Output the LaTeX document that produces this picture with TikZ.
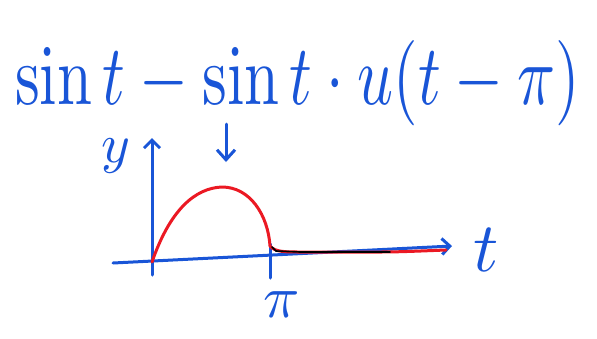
\documentclass[tikz,border=0pt]{standalone}
\usepackage{graphicx}
\usepackage{amsmath}
\usetikzlibrary{arrows.meta}
\definecolor{pen}{RGB}{25,85,215}
\definecolor{redpen}{RGB}{235,25,35}
\tikzset{
  penline/.style={draw=pen, line width=3pt, line cap=round, line join=round},
  redline/.style={draw=redpen, line width=3pt, line cap=round, line join=round},
  lbl/.style={text=pen, inner sep=0pt}
}
\begin{document}
\begin{tikzpicture}[x=1pt,y=-1pt]
\useasboundingbox (0,0) rectangle (597,338);
% title
\node[lbl, anchor=base west] (title) at (15,104)
  {\resizebox{565pt}{64pt}{$\sin t - \sin t\cdot u(t-\pi)$}};
% pointer arrow
\coordinate (pa) at (226,124);
\coordinate (pb) at (226,162);
\draw[penline, -{Straight Barb[length=10pt,width=18pt]}] (pa) -- (pb);
% axes
\coordinate (o) at (152,262);
\coordinate (xl) at (113,263);
\coordinate (xr) at (452,246);
\coordinate (yt) at (152,138);
\coordinate (yb) at (152,275);
\draw[penline, -{Straight Barb[length=8pt,width=16pt]}] (xl) -- (xr);
\draw[penline, -{Straight Barb[length=8pt,width=16pt]}] (yb) -- (yt);
% tick at pi
\coordinate (pt) at (270,244);
\coordinate (pbm) at (270,278);
\draw[penline] (pt) -- (pbm);
% labels
\node[lbl] (ylab) at (116,156) {\scalebox{5.5}{$y$}};
\node[lbl] (tlab) at (486,250) {\scalebox{7}{$t$}};
\node[lbl] (pilab) at (282,305) {\scalebox{6}{$\pi$}};
% red curve
\draw[redline] (o) .. controls (170,210) and (195,188) .. (222,187)
  .. controls (250,187) and (268,215) .. (270,246)
  .. controls (275,252) and (285,252) .. (300,252)
  -- (380,252) .. controls (400,252) and (420,251) .. (446,250);
% black overlap
\draw[black, line width=1.6pt, line cap=round] (272,247) -- (276,251) -- (300,252) -- (390,252);
\end{tikzpicture}
\end{document}
